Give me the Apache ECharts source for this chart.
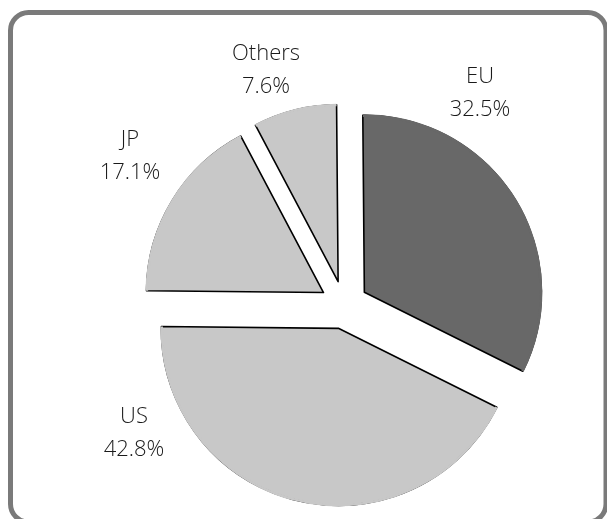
<!DOCTYPE html>
<html>
<head>
<meta charset="utf-8">
<script src="https://cdn.jsdelivr.net/npm/echarts@6/dist/echarts.min.js"></script>
<style>
html, body { margin: 0; padding: 0; background: #fff; }
#main { width: 607px; height: 519px; }
</style>
</head>
<body>
<div id="main"></div>
<script>
// shares by region, clockwise from 12 o'clock
var regions = ['EU', 'US', 'JP', 'Others'];
var shares = [32.5, 42.8, 17.1, 7.6];
var sliceColors = ['#686868', '#c8c8c8', '#c8c8c8', '#c8c8c8'];
// where each label sits (centre of the two lines)
var labelPos = [[480, 93], [134, 433], [130, 156], [266, 70]];

var pieCenter = [344, 305];
var pieR = 177;
var explode = 24;

function makeData() {
	return regions.map(function (name, i) {
		return { name: name, value: shares[i], selected: true, itemStyle: { color: sliceColors[i] } };
	});
}

var labels = regions.map(function (name, i) {
	return {
		type: 'text',
		x: labelPos[i][0],
		y: labelPos[i][1],
		style: {
			text: name + '\n' + shares[i].toFixed(1) + '%',
			fill: '#1a1a1a',
			fontSize: 22,
			fontWeight: 300,
			lineHeight: 33,
			fontFamily: 'Open Sans',
			align: 'center',
			verticalAlign: 'middle'
		},
		z: 50
	};
});

var dom = document.getElementById('main');
var myChart = echarts.init(dom, null, { renderer: 'canvas' });

option = {
	animation: false,
	backgroundColor: '#fff',
	graphic: [{
		type: 'rect',
		shape: { x: 10.5, y: 12.5, width: 595.5, height: 509.5, r: 18 },
		style: { fill: 'none', stroke: '#7a7a7a', lineWidth: 5 },
		z: 100
	}].concat(labels),
	series: [{
		// slices with black edges
		type: 'pie',
		center: pieCenter,
		radius: [0, pieR],
		startAngle: 90.5,
		clockwise: true,
		selectedMode: 'multiple',
		selectedOffset: explode,
		silent: true,
		data: makeData(),
		itemStyle: { borderColor: '#000', borderWidth: 1.6 },
		emphasis: { disabled: true },
		label: { show: false },
		labelLine: { show: false }
	}, {
		// thin ring over the rim to hide the stroke on the arcs
		type: 'pie',
		center: pieCenter,
		radius: [pieR - 1.6, pieR + 1],
		startAngle: 90.5,
		clockwise: true,
		selectedMode: 'multiple',
		selectedOffset: explode,
		silent: true,
		data: makeData(),
		itemStyle: { borderWidth: 0 },
		emphasis: { disabled: true },
		label: { show: false },
		labelLine: { show: false }
	}]
};

if (option && typeof option === "object") {
	myChart.setOption(option, true);
}
</script>
</body>
</html>
